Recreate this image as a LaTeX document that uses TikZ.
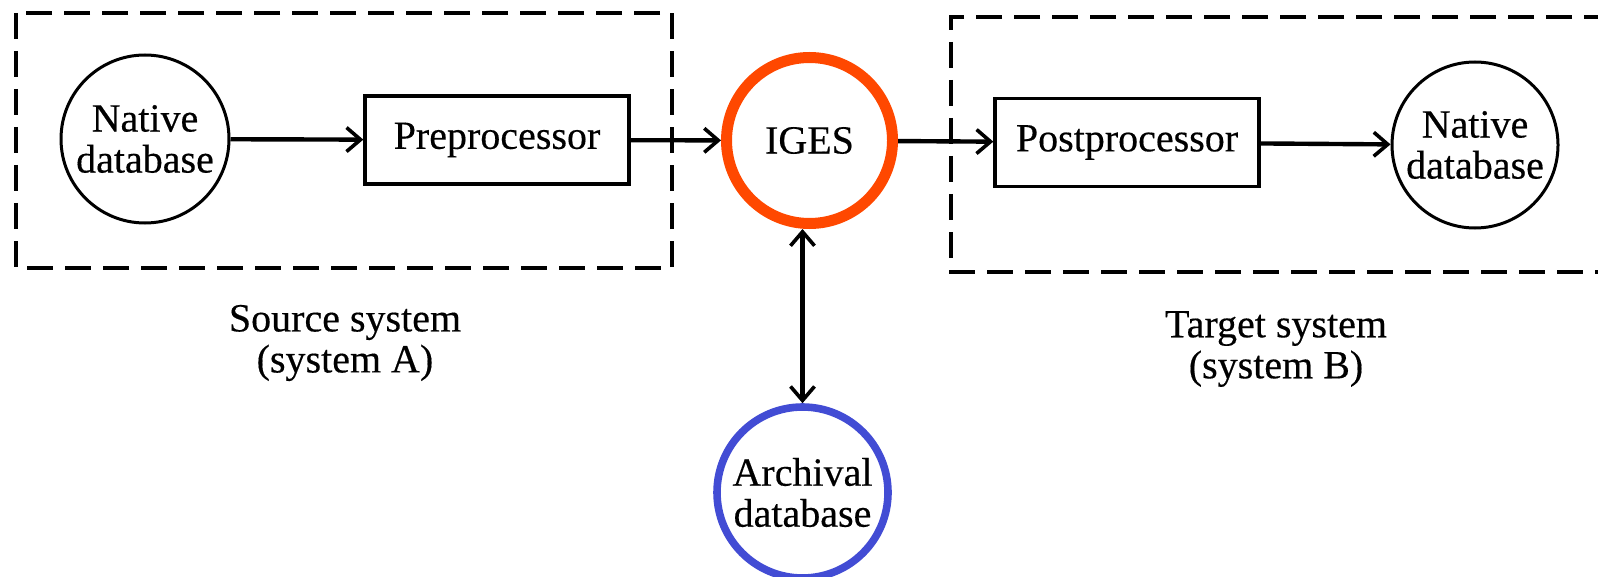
\documentclass[tikz,border=0pt]{standalone}
\usepackage{fontspec}
\setmainfont{Liberation Serif}[BoldFont={Liberation Serif}, BoldFeatures={FakeBold=0.35}]
\usetikzlibrary{arrows.meta}
\definecolor{igesred}{RGB}{255,72,0}
\definecolor{archblue}{RGB}{66,76,212}
\begin{document}
\begin{tikzpicture}[x=0.5pt,y=-0.5pt,
  every node/.style={font=\fontsize{20}{20.5}\selectfont\bfseries, align=center},
  dbcircle/.style={draw, circle, line width=1.5pt, inner sep=0pt, minimum size=84pt},
  procbox/.style={draw, rectangle, line width=1.7pt, inner sep=0pt, minimum width=132pt, minimum height=44pt},
  sysframe/.style={dash pattern=on 13pt off 6pt, line width=1.6pt},
  barb/.tip={Straight Barb[length=7pt,width=12pt,line width=1.8pt]},
  arr/.style={line width=2.2pt, -barb},
  darr/.style={line width=2.2pt, barb-barb}
]
\useasboundingbox (0,0) rectangle (1598,577);
\clip (0,0) rectangle (1598,577);

% system frames
\draw[sysframe] (16,13) rectangle (672,268);
\draw[sysframe] (1610,17) -- (951,17) -- (951,272) -- (1610,272);

% source side
\node[dbcircle] (ndA) at (145,139) {Native\\database};
\node[procbox] (pre) at (497,140) {Preprocessor};

% exchange file
\node[draw=igesred, circle, line width=5.5pt, inner sep=0pt, minimum size=83pt] (iges) at (809.5,140.5) {IGES};
\node[draw=archblue, circle, line width=3.8pt, inner sep=0pt, minimum size=85.5pt] (arch) at (802.5,492.5) {Archival\\database};

% target side
\node[procbox] (post) at (1127,142.5) {Postprocessor};
\node[dbcircle, minimum size=83pt] (ndB) at (1475,145) {Native\\database};

% captions
\node (srclbl) at (345,343) {Source system\\(system A)};
\node (tgtlbl) at (1276,349) {Target system\\(system B)};

% data flow
\draw[arr] (ndA) -- (pre);
\draw[arr] (pre) -- (iges);
\draw[arr] (iges) -- (post);
\draw[arr] (post) -- (ndB);
\draw[darr] (iges.south -| arch.north) -- (arch.north);
\end{tikzpicture}
\end{document}
